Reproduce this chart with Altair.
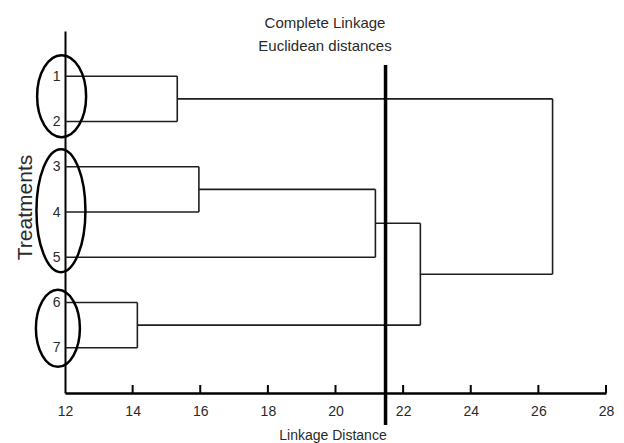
import altair as alt
import pandas as pd

# ---- data ----
leaves = ["1", "2", "3", "4", "5", "6", "7"]
merge_left = ["1", "3", "c2", "6", "c3", "c1"]
merge_right = ["2", "4", "5", "7", "c4", "c5"]
merge_height = [15.32, 15.96, 21.18, 14.14, 22.51, 26.42]
x_ticks = [12, 14, 16, 18, 20, 22, 24, 26, 28]
y_ticks = [1, 2, 3, 4, 5, 6, 7]
cut_distance = [21.48]
group_center_x = [11.9, 11.88, 11.79]
group_center_y = [1.44, 3.97, 6.57]

# ---- build dendrogram segments ----
base = 12
pos = {l: i + 1 for i, l in enumerate(leaves)}
hgt = {l: base for l in leaves}
segs = []
for i, (a, b, h) in enumerate(zip(merge_left, merge_right, merge_height)):
    name = f"c{i + 1}"
    for c in (a, b):
        segs.append(dict(x1=hgt[c], x2=h, y1=pos[c], y2=pos[c]))
    segs.append(dict(x1=h, x2=h, y1=pos[a], y2=pos[b]))
    pos[name] = (pos[a] + pos[b]) / 2
    hgt[name] = h
seg_df = pd.DataFrame(segs)

FONT = "Liberation Sans"
TXT = "#2a2a2a"
W, H = 541, 362

xs = alt.Scale(domain=[12, 28], nice=False, zero=False)
ys = alt.Scale(domain=[0, 8], nice=False, zero=False, reverse=True)
xaxis = alt.Axis(values=x_ticks, labelPadding=11, title="Linkage Distance",
                 titleFontSize=14, titleX=W / 2 - 3, titleY=42, domainWidth=2.5,
                 titleBaseline="middle", titleAlign="center", labelFlush=False)
yaxis = alt.Axis(values=y_ticks, labelPadding=5, title="Treatments", titleFontSize=21,
                 titleX=-40, titleY=176, domainWidth=2,
                 titleAngle=270, titleBaseline="middle", titleAlign="center")

dendro = alt.Chart(seg_df).mark_rule(color="#1e1e1e", strokeWidth=1.6).encode(
    x=alt.X("x1:Q", scale=xs, axis=xaxis),
    x2="x2:Q",
    y=alt.Y("y1:Q", scale=ys, axis=yaxis),
    y2="y2:Q",
)

cut = alt.Chart(pd.DataFrame({"x1": cut_distance})).mark_rule(color="black", strokeWidth=3.5).encode(
    x=alt.X("x1:Q", scale=xs, axis=xaxis),
    y=alt.value(34),
    y2=alt.value(394),
)

ticks = alt.Chart(pd.DataFrame({"x1": x_ticks[1:]})).mark_rule(color="black", strokeWidth=2).encode(
    x=alt.X("x1:Q", scale=xs, axis=xaxis),
    y=alt.value(H - 8),
    y2=alt.value(H),
)

# ellipse outlines (rx, ry in pixels)
ell_px = [(24.5, 41), (24.5, 61.5), (22, 38.5)]
ell_layers = []
for cx, cy, (rx, ry) in zip(group_center_x, group_center_y, ell_px):
    k = rx / ry
    path = f"M {-k} 0 A {k} 1 0 1 0 {k} 0 A {k} 1 0 1 0 {-k} 0 Z"
    ell_layers.append(
        alt.Chart(pd.DataFrame({"x1": [cx], "y1": [cy]})).mark_point(
            shape=path, filled=False, color="black", strokeWidth=2.5, opacity=1
        ).encode(
            x=alt.X("x1:Q", scale=xs, axis=xaxis),
            y=alt.Y("y1:Q", scale=ys, axis=yaxis),
            size=alt.value((2 * ry) ** 2),
        )
    )

title = alt.Chart(pd.DataFrame({"t": ["Complete Linkage\nEuclidean distances"]})).mark_text(
    font=FONT, fontSize=15, color=TXT, lineBreak="\n", lineHeight=23, align="center", baseline="middle"
).encode(x=alt.value(260), y=alt.value(-8), text="t:N")

chart = alt.layer(dendro, *ell_layers, ticks, cut, title).properties(
    width=W, height=H,
    autosize=alt.AutoSizeParams(type="none"),
    padding={"left": 57, "top": 23, "right": 10, "bottom": 50},
    background="white",
).configure_view(stroke=None).configure_axis(
    grid=False, ticks=False, tickSize=0, domainColor="black", domainOpacity=1,
    labelFont=FONT, labelFontSize=14, labelColor=TXT,
    titleFont=FONT, titleFontWeight="normal", titleColor=TXT,
)

chart.save("out.html", embed_options={"renderer": "svg", "actions": False})
